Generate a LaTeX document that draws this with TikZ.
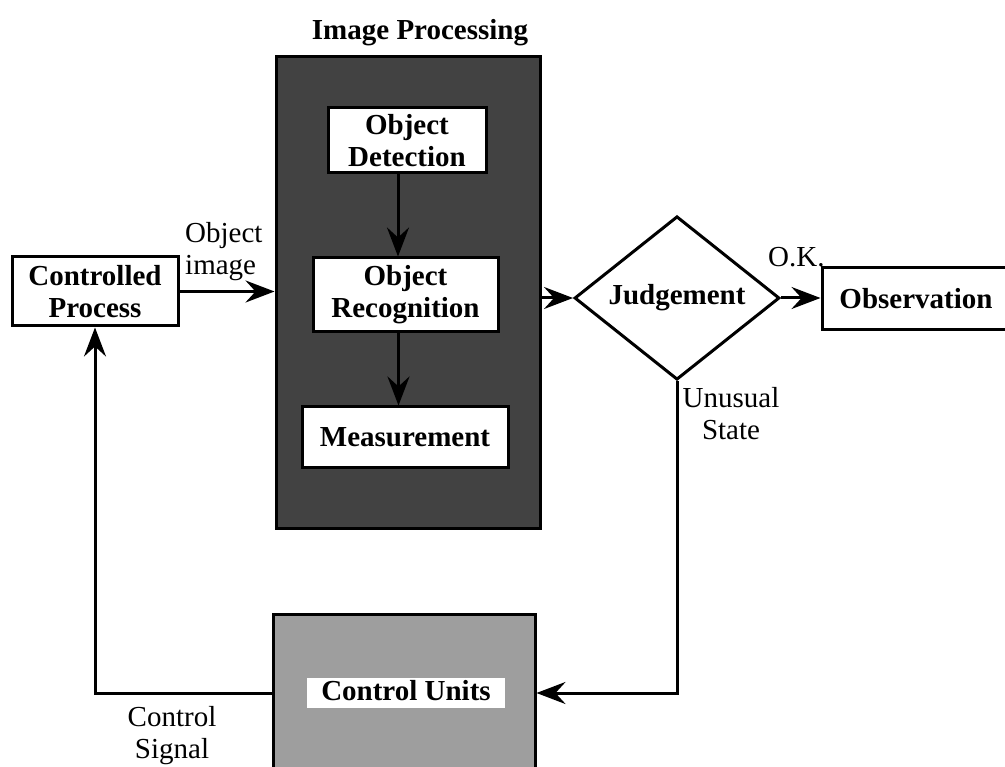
\documentclass[tikz,border=0pt]{standalone}
\usepackage{fontspec}
\setmainfont{Liberation Serif}
\usetikzlibrary{shapes.geometric,arrows.meta,calc}
\begin{document}
\begin{tikzpicture}[x=1pt,y=-1pt,
  txt/.style={font=\fontsize{29}{32}\selectfont},
  btxt/.style={font=\bfseries\fontsize{29}{32}\selectfont},
  blk/.style={btxt, draw, line width=3pt, fill=white, align=center, inner sep=0pt},
  lbl/.style={txt, align=center, inner sep=0pt},
  flow/.style={line width=3pt, -{Stealth[length=29pt,width=22pt,inset=10pt]}},
]
% canvas
\clip (0,0) rectangle (1005,767);
\fill[white] (0,0) rectangle (1005,767);

% image processing stage
\node[draw, line width=3pt, fill=black!74, minimum width=264pt, minimum height=471pt, inner sep=0pt] (ip) at (408,292.5) {};
\node[btxt, anchor=base, inner sep=0pt] (ipt) at (420,40) {Image Processing};
\node[blk, minimum width=158pt, minimum height=65pt] (od) at (407,140.5) {Object\\Detection};
\node[blk, minimum width=185pt, minimum height=74pt] (orc) at (405.5,295) {Object\\Recognition};
\node[blk, minimum width=206pt, minimum height=61pt] (ms) at (405,437.5) {Measurement};

% process, decision and observation
\node[blk, minimum width=166pt, minimum height=69pt] (cp) at (95,291.5) {Controlled\\Process};
\node[btxt, diamond, draw, line width=3pt, fill=white, minimum width=205pt, minimum height=154pt, inner sep=0pt] (jd) at (677,298) {Judgement};
\node[blk, minimum width=188pt, minimum height=62pt] (obs) at (916,299) {Observation};

% control units
\node[draw, line width=3pt, fill=black!38, minimum width=262pt, minimum height=176pt, inner sep=0pt] (cu) at (404,702) {};
\node[btxt, fill=white, inner xsep=14pt, inner ysep=1.5pt, text height=21pt, text depth=6pt] (cul) at (406,693) {Control Units};

% signal labels
\node[lbl, align=left, anchor=west] (oi) at (185,252) {Object\\image};
\node[txt, anchor=base west, inner sep=0pt] (ok) at (768,267) {O.K.};
\node[lbl] (us) at (731,414) {Unusual\\State};
\node[lbl] (cs) at (172,736) {Control\\Signal};

% connectors
\draw[flow] (cp.east) -- (cp.east -| ip.west);
\draw[flow] ([xshift=-9pt]od.south) -- ([xshift=-9pt]od.south |- orc.north);
\draw[flow] ([xshift=-7pt]orc.south) -- ([xshift=-7pt]orc.south |- ms.north);
\draw[flow] (ip.east |- jd.west) -- (jd.west);
\draw[flow] (jd.east) -- (jd.east -| obs.west);
\draw[flow] (jd.south) |- (cu.east |- cul.center);
\draw[flow] (cu.west |- cul.center) -| (cp.south);
\end{tikzpicture}
\end{document}
